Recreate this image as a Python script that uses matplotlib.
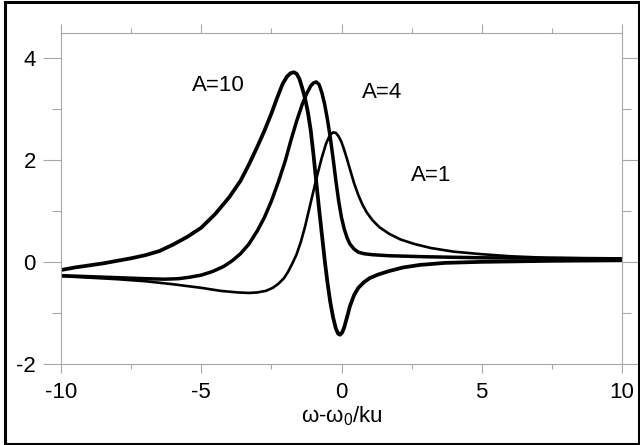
import matplotlib
matplotlib.use("Agg")
import matplotlib.pyplot as plt
from matplotlib.patches import Rectangle
from matplotlib.ticker import MultipleLocator

plt.rcParams['font.family'] = ['Liberation Sans', 'DejaVu Sans']
plt.rcParams['mathtext.fontset'] = 'custom'
plt.rcParams['mathtext.rm'] = 'Liberation Sans'
plt.rcParams['mathtext.it'] = 'Liberation Sans'
plt.rcParams['mathtext.default'] = 'rm'
plt.rcParams['axes.unicode_minus'] = False

# curves
x_a10 = [-10, -9.5, -9, -8.5, -8, -7.5, -7, -6.5, -6, -5.5, -5, -4.5, -4, -3.6, -3.3,
         -3.0, -2.75, -2.5, -2.3, -2.1, -1.95, -1.82, -1.7, -1.6, -1.5, -1.4, -1.3, -1.2,
         -1.1, -1.0, -0.9, -0.8, -0.7, -0.6, -0.5, -0.4, -0.3, -0.2, -0.12, -0.05, 0.02,
         0.1, 0.2, 0.3, 0.45, 0.6, 0.8, 1.0, 1.3, 1.7, 2.2, 2.8, 3.7, 5, 7.5, 10]
y_a10 = [-0.15, -0.10, -0.06, -0.02, 0.03, 0.08, 0.14, 0.22, 0.35, 0.50, 0.68, 0.95, 1.28,
         1.60, 1.92, 2.27, 2.58, 2.92, 3.22, 3.50, 3.64, 3.71, 3.73, 3.70, 3.60, 3.42, 3.22,
         2.95, 2.60, 2.12, 1.58, 1.05, 0.55, 0.05, -0.40, -0.78, -1.08, -1.30, -1.40, -1.42,
         -1.38, -1.27, -1.07, -0.86, -0.64, -0.50, -0.39, -0.31, -0.24, -0.17, -0.10, -0.05,
         -0.01, 0.01, 0.03, 0.04]

x_a4 = [-10, -9, -8, -7, -6.3, -5.8, -5.4, -5.0, -4.6, -4.2, -3.9, -3.6, -3.3, -3.0, -2.75,
        -2.5, -2.25, -2.0, -1.8, -1.6, -1.4, -1.25, -1.1, -1.0, -0.9, -0.8, -0.7, -0.6, -0.5,
        -0.4, -0.3, -0.2, -0.1, 0.0, 0.1, 0.2, 0.3, 0.45, 0.6, 0.8, 1.1, 1.7, 3.0, 5.0, 7.5, 10]
y_a4 = [-0.26, -0.28, -0.30, -0.32, -0.33, -0.32, -0.29, -0.25, -0.18, -0.08, 0.03, 0.17,
        0.36, 0.62, 0.88, 1.20, 1.58, 2.00, 2.40, 2.77, 3.10, 3.30, 3.46, 3.52, 3.54, 3.49,
        3.33, 3.10, 2.80, 2.45, 2.04, 1.60, 1.20, 0.88, 0.65, 0.48, 0.36, 0.26, 0.20, 0.17,
        0.15, 0.13, 0.11, 0.09, 0.08, 0.07]

x_a1 = [-10, -9, -8, -7, -6, -5, -4.3, -3.7, -3.3, -3.0, -2.7, -2.45, -2.25, -2.05, -1.9,
        -1.75, -1.6, -1.45, -1.3, -1.15, -1.0, -0.85, -0.7, -0.55, -0.42, -0.3, -0.2, -0.1,
        0.0, 0.1, 0.2, 0.3, 0.45, 0.6, 0.75, 0.9, 1.1, 1.35, 1.7, 2.1, 2.6, 3.2, 4.0, 5.0,
        6.0, 7.3, 8.5, 10]
y_a1 = [-0.27, -0.30, -0.33, -0.37, -0.43, -0.50, -0.56, -0.59, -0.60, -0.59, -0.56, -0.50,
        -0.42, -0.31, -0.18, -0.02, 0.16, 0.40, 0.70, 1.05, 1.40, 1.74, 2.06, 2.33, 2.49,
        2.55, 2.54, 2.47, 2.36, 2.20, 2.02, 1.83, 1.55, 1.32, 1.13, 0.98, 0.83, 0.69, 0.56,
        0.45, 0.36, 0.28, 0.21, 0.16, 0.12, 0.09, 0.08, 0.07]

labels = ['A=10', 'A=4', 'A=1']
label_pos = [(-4.39, 3.47), (1.46, 3.33), (3.21, 1.70)]

fig = plt.figure(figsize=(6.4, 4.45), dpi=100)
ax = fig.add_axes([61 / 640, 1 - 364.3 / 445, 561 / 640, 331.3 / 445])

ax.plot(x_a10, y_a10, color='black', lw=2.7, solid_joinstyle='round')
ax.plot(x_a4, y_a4, color='black', lw=2.5, solid_joinstyle='round')
ax.plot(x_a1, y_a1, color='black', lw=1.9, solid_joinstyle='round')

for txt, (tx, ty) in zip(labels, label_pos):
    ax.text(tx, ty, txt, fontsize=16, ha='center', va='center')

ax.set_xlim(-10, 10)
ax.set_ylim(-2, 4.5)
ax.xaxis.set_major_locator(MultipleLocator(5))
ax.xaxis.set_minor_locator(MultipleLocator(2.5))
ax.yaxis.set_major_locator(MultipleLocator(2))
ax.yaxis.set_minor_locator(MultipleLocator(1))

gray = '#a8a8a8'
for s in ax.spines.values():
    s.set_color(gray)
    s.set_linewidth(0.8)
ax.tick_params(which='both', direction='out', color=gray, width=0.8,
               top=True, right=True, labeltop=False, labelright=False, labelsize=16)
ax.tick_params(axis='x', which='major', length=6.5, pad=6)
ax.tick_params(axis='x', which='minor', length=3.5)
ax.tick_params(axis='y', which='major', length=13, pad=5)
ax.tick_params(axis='y', which='minor', length=6.5)

ax.set_xlabel('ω-ω$_0$/ku', fontsize=16, labelpad=1)

# black frame round the figure
fig.patches.append(Rectangle((4.5 / 640, 1.5 / 445), 634 / 640, 441.5 / 445,
                             transform=fig.transFigure, fill=False,
                             edgecolor='black', lw=2.2))

fig.savefig('out.png', dpi=100)
